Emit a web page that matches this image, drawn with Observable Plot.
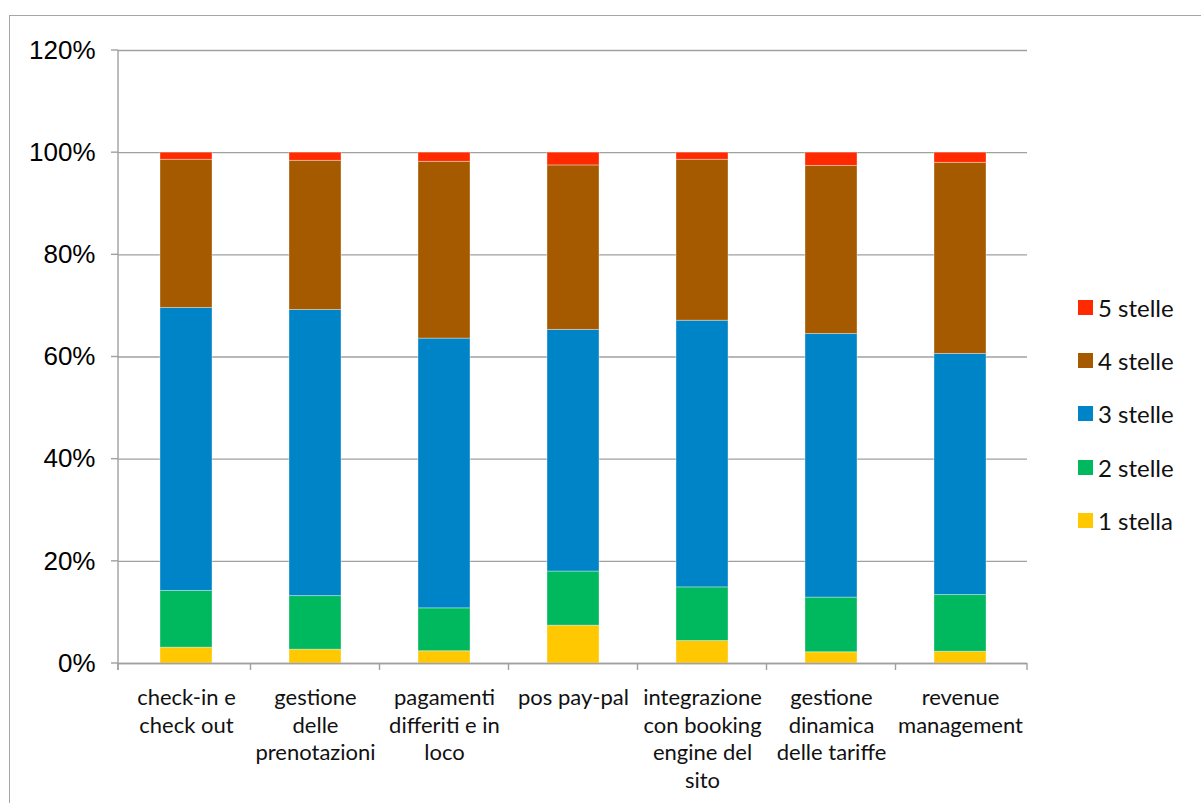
<!DOCTYPE html>
<html>
<head>
<meta charset="utf-8">
<script src="https://cdn.jsdelivr.net/npm/d3@7"></script>
<script src="https://cdn.jsdelivr.net/npm/@observablehq/plot@0.6"></script>
<style>
  html, body { margin: 0; padding: 0; background: #fff; overflow: hidden; }
  #wrap { position: relative; width: 1201px; height: 803px; }
  #border { position: absolute; left: 9px; top: 15px; width: 1300px; height: 900px; border: 1.5px solid #a6a6a6; box-sizing: border-box; }
  #chart { position: absolute; left: 0; top: 0; }
  #legend { position: absolute; left: 1078px; top: 0; font-family: Lato, "Open Sans", sans-serif; font-size: 24px; color: #111; }
  .item { position: absolute; left: 0; display: flex; align-items: center; white-space: nowrap; height: 30px; }
  .sw { width: 15px; height: 15px; margin-right: 5px; }
</style>
</head>
<body>
<div id="wrap">
  <div id="border"></div>
  <div id="chart"></div>
  <div id="legend"></div>
</div>
<script>
// ---- data ----
const categories = [
  "check-in e check out",
  "gestione delle prenotazioni",
  "pagamenti differiti e in loco",
  "pos pay-pal",
  "integrazione con booking engine del sito",
  "gestione dinamica delle tariffe",
  "revenue management"
];
const tickLabels = [
  "check-in e\ncheck out",
  "gestione\ndelle\nprenotazioni",
  "pagamenti\ndifferiti e in\nloco",
  "pos pay-pal",
  "integrazione\ncon booking\nengine del\nsito",
  "gestione\ndinamica\ndelle tariffe",
  "revenue\nmanagement"
];
const series = ["1 stella", "2 stelle", "3 stelle", "4 stelle", "5 stelle"];
const colors = ["#FFC800", "#00B85E", "#0084C8", "#A65A00", "#FF2A00"];
// percentages per category, in series order
const stella1 = [3.1, 2.7, 2.4, 7.4, 4.4, 2.2, 2.3];
const stelle2 = [11.1, 10.5, 8.4, 10.6, 10.5, 10.7, 11.1];
const stelle3 = [55.4, 56.0, 52.8, 47.3, 52.2, 51.6, 47.2];
const stelle4 = [29.0, 29.2, 34.6, 32.2, 31.5, 32.9, 37.4];
const stelle5 = [1.4, 1.6, 1.8, 2.5, 1.4, 2.6, 2.0];
const yTicks = [0, 20, 40, 60, 80, 100, 120];

const seriesValues = [stella1, stelle2, stelle3, stelle4, stelle5];
const data = [];
series.forEach((s, si) => categories.forEach((c, ci) => data.push({cat: c, series: s, value: seriesValues[si][ci]})));

const GRID = "#a0a0a0";

function axisLines(index, scales, values, dims) {
  const x = scales.x, y = scales.y;
  const left = dims.marginLeft, right = dims.width - dims.marginRight;
  const bottom = dims.height - dims.marginBottom, top = dims.marginTop;
  const g = d3.create("svg:g").attr("stroke", GRID).attr("stroke-width", 1.4).attr("fill", "none");
  g.append("line").attr("x1", left).attr("x2", left).attr("y1", top).attr("y2", bottom + 7);
  yTicks.forEach(t => g.append("line").attr("x1", left - 7).attr("x2", left).attr("y1", y(t)).attr("y2", y(t)));
  const bw = typeof x.bandwidth === "function" ? x.bandwidth() : (x.bandwidth || 0);
  const pos = categories.map(c => x(c));
  const bounds = [left];
  for (let i = 0; i < pos.length - 1; i++) bounds.push((pos[i] + bw + pos[i + 1]) / 2);
  bounds.push(right);
  bounds.forEach(b => g.append("line").attr("x1", b).attr("x2", b).attr("y1", bottom).attr("y2", bottom + 7));
  return g.node();
}

const chart = Plot.plot({
  width: 1201,
  height: 803,
  marginLeft: 118,
  marginRight: 174,
  marginTop: 50,
  marginBottom: 140,
  style: {fontFamily: "Liberation Sans, Arial, sans-serif", fontSize: "26px", color: "#000", background: "transparent", overflow: "visible"},
  x: {domain: categories, paddingInner: 0.6, paddingOuter: 0.3, axis: null},
  y: {domain: [0, 120], axis: null},
  color: {domain: series, range: colors},
  marks: [
    Plot.gridY(yTicks, {stroke: GRID, strokeOpacity: 1, strokeWidth: 1.4}),
    Plot.axisY(yTicks, {tickSize: 0, tickPadding: 23, tickFormat: d => d + "%", fontSize: 26, fill: "#000", label: null}),
    Plot.barY(data, {x: "cat", y: "value", fill: "series", order: series, stroke: "#fff", strokeOpacity: 0.35, strokeWidth: 1}),
    Plot.ruleY([0], {stroke: GRID, strokeWidth: 1.4}),
    axisLines,
    Plot.text(categories, {
      x: d => d,
      text: (d, i) => tickLabels[i],
      frameAnchor: "bottom",
      lineAnchor: "top",
      dy: 22,
      lineHeight: 1.25,
      fontSize: 22,
      fontFamily: "Lato, 'Open Sans', sans-serif",
      fill: "#111"
    })
  ]
});
document.getElementById("chart").appendChild(chart);

// legend (top to bottom: 5 stelle ... 1 stella)
const legend = document.getElementById("legend");
const legendTops = [292, 345, 398, 452, 505];
series.slice().reverse().forEach((s, i) => {
  const item = document.createElement("div");
  item.className = "item";
  item.style.top = legendTops[i] + "px";
  const sw = document.createElement("div");
  sw.className = "sw";
  sw.style.background = colors[series.indexOf(s)];
  const tx = document.createElement("span");
  tx.textContent = s;
  item.appendChild(sw);
  item.appendChild(tx);
  legend.appendChild(item);
});
</script>
</body>
</html>
